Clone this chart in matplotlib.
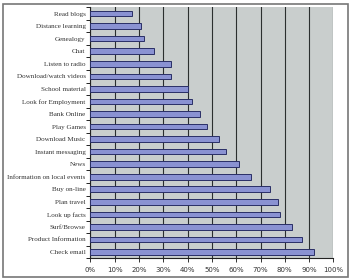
import matplotlib
matplotlib.use("Agg")
import matplotlib.pyplot as plt
import matplotlib.patches as mpatches
from matplotlib.ticker import PercentFormatter

# actividades de arriba abajo
actividades = [
    "Read blogs", "Distance learning", "Genealogy", "Chat",
    "Listen to radio", "Download/watch videos", "School material",
    "Look for Employment", "Bank Online", "Play Games", "Download Music",
    "Instant messaging", "News", "Information on local events",
    "Buy on-line", "Plan travel", "Look up facts", "Surf/Browse",
    "Product Information", "Check email",
]
porcentajes = [17, 21, 22, 26, 33, 33, 40, 42, 45, 48, 53,
               56, 61, 66, 74, 77, 78, 83, 87, 92]
ticks_x = [0, 10, 20, 30, 40, 50, 60, 70, 80, 90, 100]

fig = plt.figure(figsize=(3.51, 2.79), dpi=100)
ax = fig.add_axes([90.4 / 351, 1 - 258.3 / 279, 243 / 351, 251 / 279])

n = len(actividades)
pos = list(range(n))
ax.barh(pos, porcentajes, height=0.45, color="#8a92d2",
        edgecolor="#2a2f66", linewidth=0.7, zorder=3)

ax.set_facecolor("#c9cecd")
ax.set_xlim(0, 100)
ax.set_ylim(n - 0.5, -0.5)
ax.set_xticks(ticks_x)
ax.xaxis.set_major_formatter(PercentFormatter(decimals=0))
ax.grid(axis="x", color="#2b2f2f", linewidth=0.8, zorder=1)

ax.set_yticks(pos)
ax.set_yticklabels(actividades, family="Liberation Serif", fontsize=5.1,
                   color="#333333")
ax.set_yticks([p - 0.5 for p in pos] + [n - 0.5], minor=True)
ax.tick_params(axis="y", which="major", length=0, pad=3.5)
ax.tick_params(axis="y", which="minor", length=3, width=0.7,
               color="#222222")
ax.tick_params(axis="x", length=3, width=0.7, labelsize=5.0,
               colors="#333333", pad=3)

for lado in ["top", "right"]:
    ax.spines[lado].set_visible(False)
ax.spines["left"].set_color("#222222")
ax.spines["bottom"].set_color("#222222")
ax.spines["left"].set_linewidth(0.8)
ax.spines["bottom"].set_linewidth(0.8)

# marco exterior
marco = mpatches.Rectangle((2.5 / 351, 2.5 / 279), 345.5 / 351, 273 / 279,
                           transform=fig.transFigure, fill=False,
                           edgecolor="#777777", linewidth=1.2)
fig.patches.append(marco)

plt.savefig("out.png", dpi=100)
